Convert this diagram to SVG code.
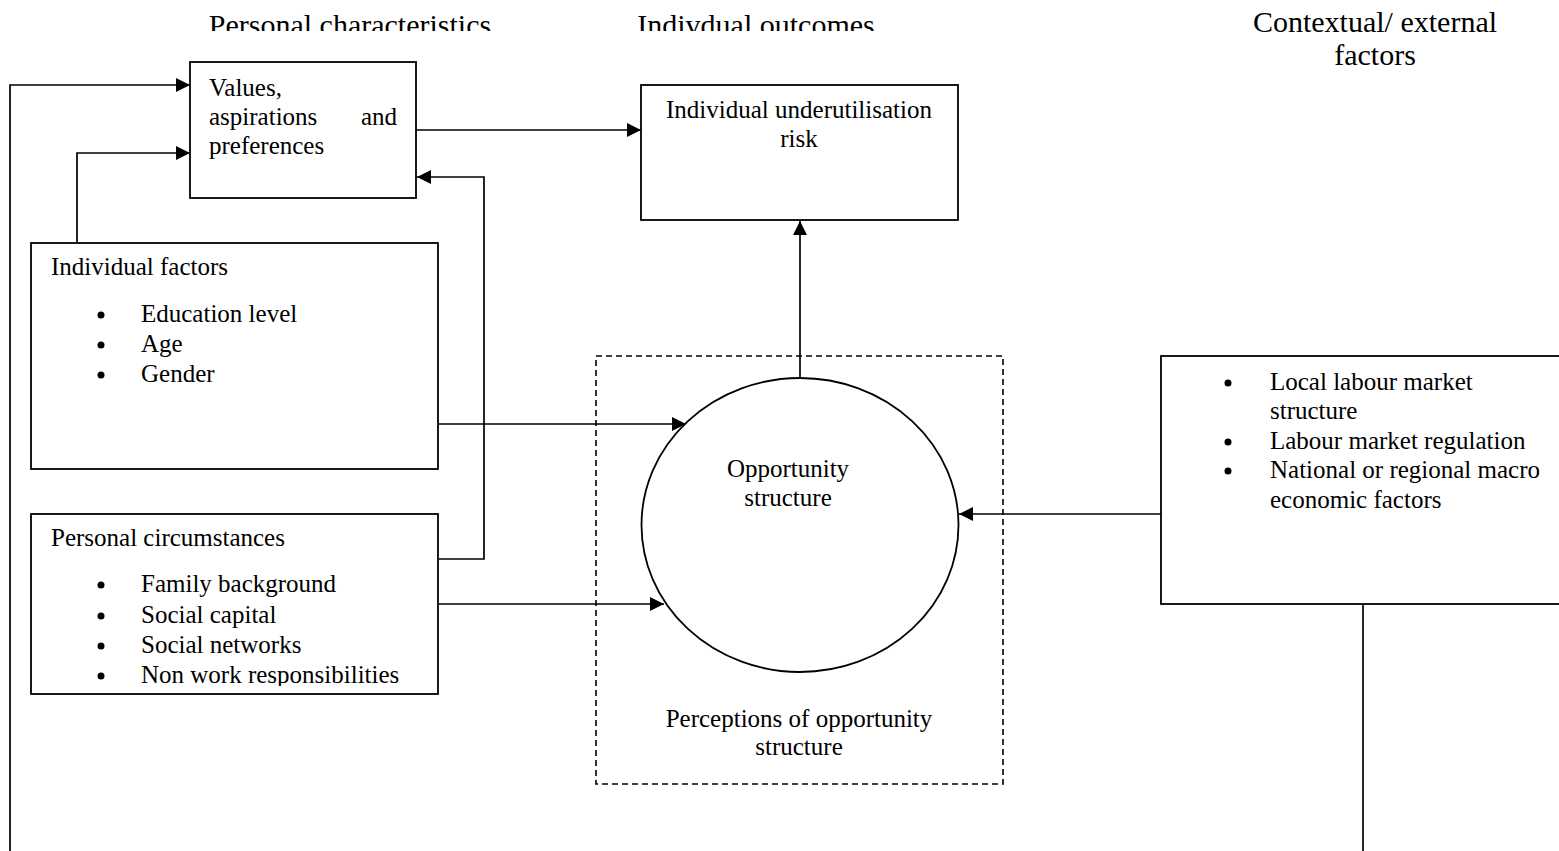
<svg xmlns="http://www.w3.org/2000/svg" width="1559" height="851" viewBox="0 0 1559 851">
<style>
text{font-family:"Liberation Serif","Times New Roman",serif;fill:#000;}
.h{font-size:30px;}
.t{font-size:25px;}
.box{fill:#fff;stroke:#000;stroke-width:1.8;}
.ln{fill:none;stroke:#000;stroke-width:1.7;}
.dash{fill:none;stroke:#000;stroke-width:1.6;stroke-dasharray:6 4;}
.b{fill:#000;}
</style>
<defs>
<marker id="ah" markerUnits="userSpaceOnUse" markerWidth="15" markerHeight="15" refX="14" refY="7" orient="auto">
<path d="M0,0 L14,7 L0,14 z" fill="#000"/>
</marker>
<clipPath id="hclip"><rect x="0" y="0" width="1000" height="31"/></clipPath>
<clipPath id="pcclip"><rect x="31" y="514" width="407" height="172"/></clipPath>
</defs>
<rect width="1559" height="851" fill="#fff"/>

<g id="headers">
<g clip-path="url(#hclip)">
<text class="h" x="350" y="35" text-anchor="middle">Personal characteristics</text>
<text class="h" x="756" y="35" text-anchor="middle">Indivdual outcomes</text>
</g>
<text class="h" x="1375" y="32" text-anchor="middle">Contextual/ external</text>
<text class="h" x="1375" y="65" text-anchor="middle">factors</text>
</g>

<g id="perceptions">
<rect class="dash" x="596" y="356" width="407" height="428"/>
<text class="t" x="799" y="727" text-anchor="middle">Perceptions of opportunity</text>
<text class="t" x="799" y="755" text-anchor="middle">structure</text>
</g>

<g id="connectors">
<polyline class="ln" points="10,851 10,85 190,85" marker-end="url(#ah)"/>
<polyline class="ln" points="77,243 77,153 190,153" marker-end="url(#ah)"/>
<polyline class="ln" points="439,559 484,559 484,177 417,177" marker-end="url(#ah)"/>
<line class="ln" x1="416" y1="130" x2="641" y2="130" marker-end="url(#ah)"/>
<line class="ln" x1="800" y1="378" x2="800" y2="221" marker-end="url(#ah)"/>
<line class="ln" x1="439" y1="424" x2="686" y2="424" marker-end="url(#ah)"/>
<line class="ln" x1="439" y1="604" x2="664" y2="604" marker-end="url(#ah)"/>
<line class="ln" x1="1161" y1="514" x2="959" y2="514" marker-end="url(#ah)"/>
<line class="ln" x1="1363" y1="604" x2="1363" y2="851"/>
</g>

<g id="values">
<rect class="box" x="190" y="62" width="226" height="136"/>
<text class="t" x="209" y="96">Values,</text>
<text class="t" x="209" y="125">aspirations</text>
<text class="t" x="397" y="125" text-anchor="end">and</text>
<text class="t" x="209" y="154">preferences</text>
</g>

<g id="underutilisation">
<rect class="box" x="641" y="85" width="317" height="135"/>
<text class="t" x="799" y="118" text-anchor="middle">Individual underutilisation</text>
<text class="t" x="799" y="147" text-anchor="middle">risk</text>
</g>

<g id="individual-factors">
<rect class="box" x="31" y="243" width="407" height="226"/>
<text class="t" x="51" y="275">Individual factors</text>
<circle class="b" cx="101" cy="315" r="3.5"/>
<text class="t" x="141" y="322">Education level</text>
<circle class="b" cx="101" cy="345" r="3.5"/>
<text class="t" x="141" y="352">Age</text>
<circle class="b" cx="101" cy="375" r="3.5"/>
<text class="t" x="141" y="382">Gender</text>
</g>

<g id="personal-circumstances">
<rect class="box" x="31" y="514" width="407" height="180"/>
<text class="t" x="51" y="546">Personal circumstances</text>
<g clip-path="url(#pcclip)">
<circle class="b" cx="101" cy="585" r="3.5"/>
<text class="t" x="141" y="592">Family background</text>
<circle class="b" cx="101" cy="616" r="3.5"/>
<text class="t" x="141" y="623">Social capital</text>
<circle class="b" cx="101" cy="646" r="3.5"/>
<text class="t" x="141" y="653">Social networks</text>
<circle class="b" cx="101" cy="676" r="3.5"/>
<text class="t" x="141" y="683">Non work responsibilities</text>
</g>
</g>

<g id="opportunity">
<ellipse class="box" cx="800" cy="525" rx="158.5" ry="147"/>
<text class="t" x="788" y="477" text-anchor="middle">Opportunity</text>
<text class="t" x="788" y="506" text-anchor="middle">structure</text>
</g>

<g id="contextual">
<rect class="box" x="1161" y="356" width="420" height="248"/>
<circle class="b" cx="1228" cy="383" r="3.5"/>
<text class="t" x="1270" y="390">Local labour market</text>
<text class="t" x="1270" y="419">structure</text>
<circle class="b" cx="1228" cy="442" r="3.5"/>
<text class="t" x="1270" y="449">Labour market regulation</text>
<circle class="b" cx="1228" cy="471" r="3.5"/>
<text class="t" x="1270" y="478">National or regional macro</text>
<text class="t" x="1270" y="508">economic factors</text>
</g>
</svg>
